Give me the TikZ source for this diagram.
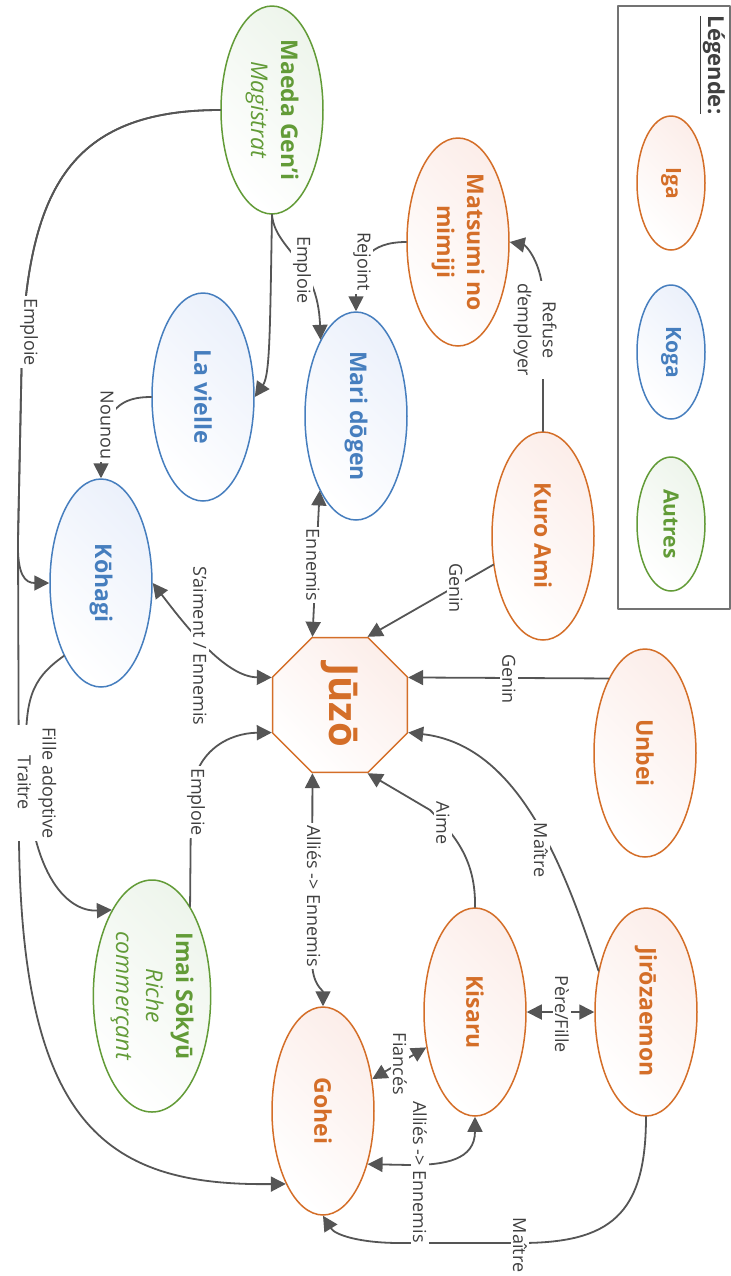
\documentclass[tikz,border=0pt]{standalone}
\usepackage{fontspec}
\setmainfont{Open Sans}
\usetikzlibrary{shapes.geometric,arrows.meta}
\definecolor{igacol}{RGB}{212,110,40}
\definecolor{igafill}{RGB}{252,238,234}
\definecolor{kogacol}{RGB}{70,126,190}
\definecolor{kogafill}{RGB}{236,241,251}
\definecolor{autrecol}{RGB}{98,155,55}
\definecolor{autrefill}{RGB}{238,245,236}
\definecolor{liencol}{RGB}{85,85,85}
\definecolor{lblcol}{RGB}{64,64,64}
\definecolor{boxcol}{RGB}{115,115,115}

\begin{document}
\begin{tikzpicture}[x=0.5pt,y=0.5pt,line cap=round,line join=round,
  >={Triangle[length=7.5pt,width=7.5pt]},
  perso/.style={ellipse,minimum width=104pt,minimum height=51pt,inner sep=0pt,
    line width=0.75pt,align=center,font=\fontsize{11.5}{15}\selectfont\bfseries},
  iganode/.style={perso,draw=igacol,text=igacol,top color=igafill,bottom color=white,shading angle=-45},
  koganode/.style={perso,draw=kogacol,text=kogacol,top color=kogafill,bottom color=white,shading angle=-45},
  autrenode/.style={perso,draw=autrecol,text=autrecol,top color=autrefill,bottom color=white,shading angle=-45},
  legnode/.style={minimum width=67pt,minimum height=34pt,font=\fontsize{10.5}{12}\selectfont\bfseries},
  lien/.style={draw=liencol,line width=0.9pt},
  lbl/.style={fill=white,inner sep=1.2pt,text=lblcol,align=center,
    font=\fontsize{9}{12.5}\selectfont}]
\begin{scope}[rotate=-90,transform shape]
  \useasboundingbox (0,0) rectangle (1276,731);

  % legende
  \draw[line width=1pt,draw=boxcol] (6,618) rectangle (609,730);
  \node[text=lblcol,font=\fontsize{11}{13}\selectfont\bfseries] (legende) at (65,712) {\underline{Légende:}};
  \node[iganode,legnode] (iga) at (183,671) {Iga};
  \node[koganode,legnode] (koga) at (352,671) {Koga};
  \node[autrenode,legnode] (autres) at (524,671) {Autres};

  % personnages
  \node[autrenode] (maeda) at (110,272) {Maeda Gen’i\\\textmd{\textit{Magistrat}}};
  \node[iganode] (matsumi) at (242,458) {Matsumi no\\mimiji};
  \node[koganode] (vielle) at (397,203) {La vielle};
  \node[koganode] (mari) at (416,356) {Mari dōgen};
  \node[iganode] (kuro) at (536,543) {Kuro Ami};
  \node[koganode] (kohagi) at (583,101) {Kōhagi};
  \node[iganode,regular polygon,regular polygon sides=8,minimum size=73pt,
    font=\fontsize{20}{24}\selectfont\bfseries] (juzo) at (705,340) {Jūzō};
  \node[iganode] (unbei) at (753,645) {Unbei};
  \node[autrenode,minimum width=116pt,minimum height=50pt] (imai) at (996,152)
    {Imai Sōkyū\\\textmd{\textit{Riche}}\\\textmd{\textit{commerçant}}};
  \node[iganode] (kisaru) at (1012,475) {Kisaru};
  \node[iganode] (jiro) at (1012,646) {Jirōzaemon};
  \node[iganode] (gohei) at (1111,323) {Gohei};

  % liens
  \draw[lien,->] (maeda.south) .. controls (110,70) and (190,30) .. (345,22) -- (540,18)
    .. controls (575,17) and (583,25) .. (kohagi.south);
  \draw[lien,->] (maeda.south) .. controls (110,70) and (190,30) .. (345,22) -- (540,18) -- (840,19)
    .. controls (1130,22) and (1186,110) .. (gohei.-27);
  \draw[lien,->] (maeda.east) .. controls (330,270) and (375,270) .. (vielle.north);
  \draw[lien,->] (maeda.east) .. controls (250,275) and (260,318) .. (mari.205);
  \draw[lien,->] (matsumi.south) .. controls (242,370) and (260,356) .. (mari.west);
  \draw[lien,->] (kuro.west) -- (300,543) .. controls (262,543) and (245,525) .. (matsumi.north);
  \draw[lien,->] (vielle.south) .. controls (397,125) and (405,101) .. (kohagi.west);
  \draw[lien,->] (kuro.-60) -- (juzo.158);
  \draw[lien,->] (unbei.206) -- (juzo.112);
  \draw[lien,->] (jiro.229) .. controls (870,565) and (745,520) .. (juzo.68);
  \draw[lien,->] (kisaru.west) .. controls (860,476) and (835,455) .. (810,430) -- (juzo.22);
  \draw[lien,<->] (juzo.338) -- (960,312) .. controls (985,312) and (990,323) .. (gohei.west);
  \draw[lien,<->] (mari.334) -- (juzo.202);
  \draw[lien,<->] (kohagi.north) .. controls (625,185) and (677,225) .. (juzo.248);
  \draw[lien,->] (imai.157) -- (800,191) .. controls (750,193) and (733,230) .. (juzo.292);
  \draw[lien,->] (kohagi.-27) .. controls (680,30) and (700,25) .. (760,26)
    .. controls (870,28) and (912,65) .. (imai.205);
  \draw[lien,<->] (kisaru.north) -- (jiro.south);
  \draw[lien,<->] (kisaru.-54) -- (gohei.123);
  \draw[lien,<->] (kisaru.east) .. controls (1160,475) and (1165,445) .. (1165,410) -- (gohei.40);
  \draw[lien,->] (jiro.east) .. controls (1215,646) and (1243,610) .. (1243,520) -- (1243,400)
    .. controls (1243,360) and (1235,335) .. (gohei.east);

  % etiquettes
  \node[lbl] (l-emploie-kohagi) at (332,29) {Emploie};
  \node[lbl] (l-fille-traitre) at (783,37) {Fille adoptive\\Traitre};
  \node[lbl] (l-emploie-mari) at (270,302) {Emploie};
  \node[lbl] (l-rejoint) at (262,362) {Rejoint};
  \node[lbl] (l-refuse) at (330,535) {Refuse\\d’employer};
  \node[lbl] (l-nounou) at (425,107) {Nounou};
  \node[lbl] (l-genin-kuro) at (588,456) {Genin};
  \node[lbl] (l-genin-unbei) at (679,509) {Genin};
  \node[lbl] (l-maitre-juzo) at (850,541) {Maître};
  \node[lbl] (l-aime) at (823,443) {Aime};
  \node[lbl] (l-allies-juzo) at (896,314) {Alliés -> Ennemis};
  \node[lbl] (l-ennemis-mari) at (565,313) {Ennemis};
  \node[lbl] (l-saiment) at (646,200) {S’aiment / Ennemis};
  \node[lbl] (l-emploie-imai) at (802,196) {Emploie};
  \node[lbl] (l-pere) at (1014,562) {Père/Fille};
  \node[lbl] (l-fiances) at (1064,400) {Fiancés};
  \node[lbl] (l-allies-kisaru) at (1172,420) {Alliés -> Ennemis};
  \node[lbl] (l-maitre-gohei) at (1245,520) {Maître};
\end{scope}
\end{tikzpicture}
\end{document}
